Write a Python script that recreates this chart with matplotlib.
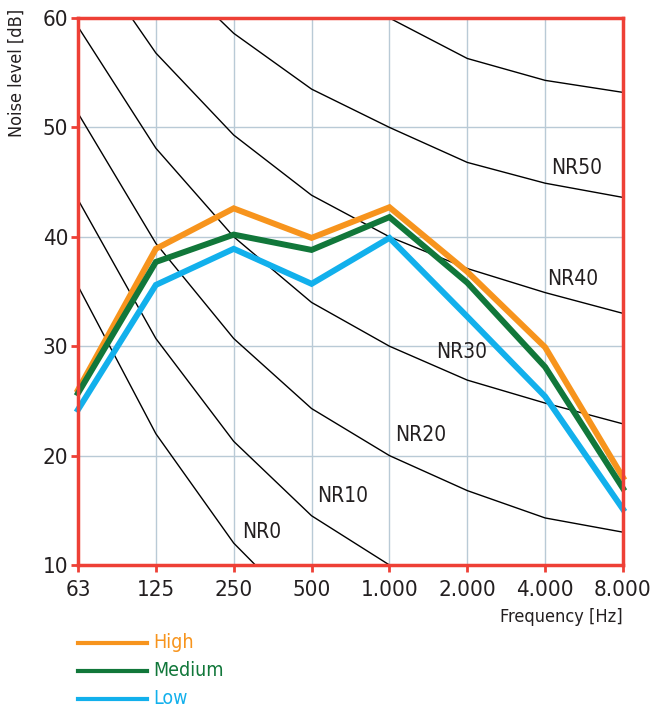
import matplotlib.pyplot as plt

# Frequency bands (equally spaced categories)
freq_labels = ['63', '125', '250', '500', '1.000', '2.000', '4.000', '8.000']

# Fan / unit noise levels [dB]
high = [26.0, 38.9, 42.6, 39.9, 42.7, 36.8, 29.9, 18.0]
medium = [25.7, 37.7, 40.2, 38.8, 41.8, 35.8, 28.1, 17.0]
low = [24.2, 35.6, 38.9, 35.7, 39.9, 32.7, 25.4, 15.1]

# Noise rating curves [dB]
nr_curves = {
    'NR0': [35.5, 22.0, 12.0, 4.8, 0.0, -3.5, -6.1, -8.0],
    'NR10': [43.4, 30.7, 21.3, 14.5, 10.0, 6.6, 4.2, 2.3],
    'NR20': [51.3, 39.4, 30.7, 24.3, 20.0, 16.8, 14.3, 13.0],
    'NR30': [59.2, 48.1, 40.0, 34.0, 30.0, 26.9, 24.8, 22.9],
    'NR40': [67.1, 56.8, 49.3, 43.8, 40.0, 37.1, 34.9, 33.0],
    'NR50': [75.0, 65.5, 58.6, 53.5, 50.0, 46.8, 44.9, 43.6],
    'NR60': [82.9, 74.2, 68.0, 63.2, 60.0, 56.3, 54.3, 53.2],
}
nr_label_pos = {
    'NR0': (2.36, 13.0),
    'NR10': (3.4, 16.3),
    'NR20': (4.4, 21.9),
    'NR30': (4.93, 29.5),
    'NR40': (6.36, 36.1),
    'NR50': (6.41, 46.3),
}

plt.rcParams['font.family'] = ['DejaVu Sans']
plt.rcParams['font.stretch'] = 'condensed'

red = '#ee4036'
orange = '#f7941d'
green = '#11773a'
blue = '#12b0ec'
text_col = '#231f20'

fig = plt.figure(figsize=(6.64, 7.11), dpi=100)
ax = fig.add_axes([78 / 664, 1 - 565 / 711, 545 / 664, 547 / 711])

x = list(range(len(freq_labels)))

for name, vals in nr_curves.items():
    ax.plot(x, vals, color='black', lw=1.0, zorder=1.5)
for name, (px, py) in nr_label_pos.items():
    ax.text(px, py, name, fontsize=15, color=text_col, ha='center', va='center')

ax.plot(x, high, color=orange, lw=4.3, zorder=2, clip_on=False, solid_joinstyle='miter')
ax.plot(x, medium, color=green, lw=4.3, zorder=2.1, clip_on=False, solid_joinstyle='miter')
ax.plot(x, low, color=blue, lw=4.3, zorder=2.2, clip_on=False, solid_joinstyle='miter')

ax.set_xlim(0, 7)
ax.set_ylim(10, 60)
ax.set_xticks(x)
ax.set_xticklabels(freq_labels)
ax.set_yticks([10, 20, 30, 40, 50, 60])
ax.grid(True, color='#b9cad6', lw=1.0, zorder=0)
ax.set_axisbelow(True)
ax.tick_params(axis='both', colors=red, labelcolor=text_col, labelsize=16,
               length=5, width=2)
ax.tick_params(axis='x', pad=6)
ax.tick_params(axis='y', pad=2)
for s in ax.spines.values():
    s.set_color(red)
    s.set_linewidth(2.5)

fig.text(17 / 664, 1 - 9 / 711, 'Noise level [dB]', rotation=90, ha='center',
         va='top', fontsize=13, color=text_col)
fig.text(623 / 664, 1 - 617 / 711, 'Frequency [Hz]', ha='right', va='center',
         fontsize=13, color=text_col)

# legend drawn by hand below the plot
legend_rows = [('High', orange, 643), ('Medium', green, 671), ('Low', blue, 699)]
for label, col, yy in legend_rows:
    fy = 1 - yy / 711
    fig.add_artist(plt.Line2D([78 / 664, 147 / 664], [fy, fy], color=col, lw=3))
    fig.text(153 / 664, fy, label, color=col, fontsize=14, va='center', ha='left')

fig.savefig('out.png', dpi=100)
